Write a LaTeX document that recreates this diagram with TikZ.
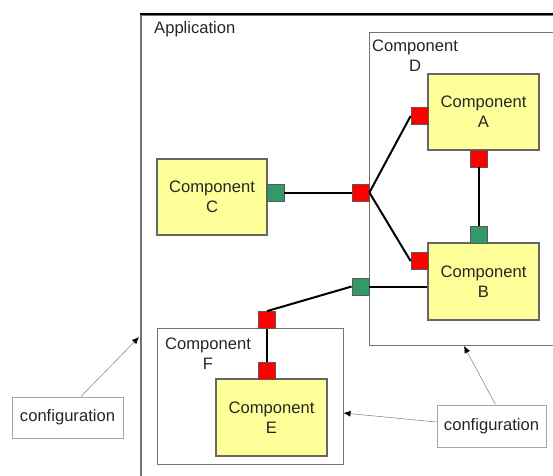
\documentclass[tikz,border=0pt]{standalone}
\usepackage{fontspec}
\setmainfont{Liberation Sans}
\usetikzlibrary{arrows.meta}
\definecolor{compyellow}{HTML}{FFFF99}
\definecolor{portred}{HTML}{FF0000}
\definecolor{portgreen}{HTML}{339966}
\begin{document}
\begin{tikzpicture}[x=1pt,y=-1pt,
  font=\fontsize{16.6}{20}\selectfont,
  comp/.style={draw=black!60, fill=compyellow, line width=1.2pt, minimum width=111pt, minimum height=76pt, align=center, inner sep=0pt, text=black!85},
  container/.style={draw=black!55, line width=1.3pt, inner sep=0pt, anchor=north west},
  portbase/.style={draw=black!65, line width=0.8pt, minimum size=17pt, inner sep=0pt},
  redport/.style={portbase, fill=portred},
  greenport/.style={portbase, fill=portgreen},
  wire/.style={line width=2pt, black},
  cfg/.style={draw=black!35, fill=white, line width=1pt, minimum width=111pt, minimum height=41pt, inner sep=0pt, text=black!85},
  cfgarrow/.style={draw=black!45, line width=0.6pt, -{Latex[length=7pt,width=6pt,color=black]}},
  lbl/.style={text=black!85, align=center, inner sep=0pt}
]
\useasboundingbox (0,0) rectangle (553,475);
\clip (0,0) rectangle (553,475);
% Application
\node[container, line width=1.6pt, minimum width=460pt, minimum height=506pt] (app) at (140,14) {};
\draw[black, line width=2pt] (app.north west) -- (app.north east);
\node[lbl, anchor=west] (applbl) at (154,29) {Application};
% Component D container
\node[container, minimum width=250pt, minimum height=313pt] (D) at (369,32) {};
\node[lbl] (dlbl) at (415,56) {Component\\D};
% Component F container
\node[container, minimum width=186pt, minimum height=136pt] (F) at (157,328) {};
\node[lbl] (flbl) at (208,353.5) {Component\\F};
% Components
\node[comp] (A) at (483.5,112) {Component\\A};
\node[comp, minimum height=77pt] (B) at (483.5,281.5) {Component\\B};
\node[comp, minimum width=110pt] (C) at (212,197) {Component\\C};
\node[comp, minimum height=77pt] (E) at (271.5,417.5) {Component\\E};
% Ports
\node[redport] (pAw) at (419.5,116) {};
\node[redport] (pAs) at (478.5,158.5) {};
\node[greenport] (pBn) at (478.5,235) {};
\node[redport] (pBw) at (419.5,261) {};
\node[redport] (pDj) at (360.5,192.5) {};
\node[greenport] (pDg) at (360.5,286.5) {};
\node[greenport] (pCe) at (275.5,192.5) {};
\node[redport] (pFn) at (267,320) {};
\node[redport] (pEn) at (267,370.5) {};
% Wires
\draw[wire] (pCe.east) -- (pDj.west);
\draw[wire] (pDj.east) -- (pAw.west);
\draw[wire] (pDj.east) -- (pBw.west);
\draw[wire] (pAs.south) -- (pBn.north);
\draw[wire] (pDg.east) -- (pDg.east -| B.west);
\draw[wire] (pDg.west) -- (pFn.north);
\draw[wire] (pFn.south) -- (pEn.north);
% Configuration
\node[cfg] (cfgL) at (67.5,417.5) {configuration};
\node[cfg, minimum width=109pt, minimum height=42pt] (cfgR) at (491.5,426) {configuration};
\coordinate (appIn) at (139,337);
\coordinate (fIn) at (343.5,413);
\coordinate (dIn) at (464,346);
\draw[cfgarrow] ([xshift=13.5pt]cfgL.north) -- (appIn);
\draw[cfgarrow] ([yshift=4pt]cfgR.west) -- (fIn);
\draw[cfgarrow] ([xshift=4pt]cfgR.north) -- (dIn);
\end{tikzpicture}
\end{document}
